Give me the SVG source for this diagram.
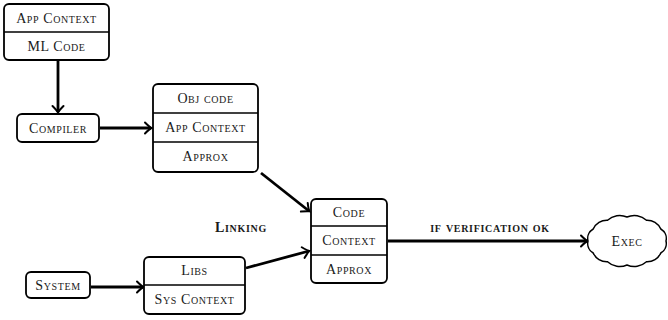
<svg xmlns="http://www.w3.org/2000/svg" width="668" height="320" viewBox="0 0 668 320">
<style>
.box{fill:#fff;stroke:#000;stroke-width:1.8}
.div{stroke:#000;stroke-width:1.5}
.t{font-family:"Liberation Serif","DejaVu Serif",serif;font-size:14px;letter-spacing:0.6px;font-variant:small-caps;text-anchor:middle;fill:#1a1a1a}
.lbl{font-family:"Liberation Serif","DejaVu Serif",serif;font-size:14px;letter-spacing:0.7px;font-weight:bold;font-variant:small-caps;text-anchor:middle;fill:#1a1a1a}
.c{fill:none;stroke:#000;stroke-width:2.8;marker-end:url(#arr)}
</style>
<defs>
<marker id="arr" markerUnits="userSpaceOnUse" markerWidth="14" markerHeight="14" viewBox="-8 -7 10 14" refX="0" refY="0" orient="auto" overflow="visible">
<path d="M -6 -5.5 Q -1.5 -1 0.5 0 Q -1.5 1 -6 5.5" fill="none" stroke="#000" stroke-width="2" stroke-linecap="round"/>
</marker>
</defs>
<g id="connectors">
<line class="c" x1="58" y1="61" x2="58" y2="112"/>
<line class="c" x1="100" y1="128" x2="151" y2="128"/>
<line class="c" x1="261" y1="173" x2="309" y2="211"/>
<line class="c" x1="91" y1="287" x2="143" y2="287"/>
<line class="c" x1="246" y1="268" x2="309" y2="251"/>
<line class="c" x1="388" y1="241" x2="587" y2="241"/>
<text class="lbl" x="241" y="232">Linking</text>
<text class="lbl" x="490" y="232">if verification ok</text>
</g>
<g id="appctx">
<rect class="box" x="4" y="4" width="105" height="56" rx="5"/>
<line class="div" x1="4" y1="32" x2="109" y2="32"/>
<text class="t" x="56.5" y="23">App Context</text>
<text class="t" x="56.5" y="51">ML Code</text>
</g>
<g id="compiler">
<rect class="box" x="17" y="114" width="82" height="28" rx="5"/>
<text class="t" x="58" y="133">Compiler</text>
</g>
<g id="obj">
<rect class="box" x="153" y="84" width="105" height="88" rx="5"/>
<line class="div" x1="153" y1="113" x2="258" y2="113"/>
<line class="div" x1="153" y1="142" x2="258" y2="142"/>
<text class="t" x="205.5" y="103">Obj code</text>
<text class="t" x="205.5" y="132">App Context</text>
<text class="t" x="205.5" y="161">Approx</text>
</g>
<g id="code">
<rect class="box" x="311" y="199" width="76" height="84" rx="5"/>
<line class="div" x1="311" y1="226" x2="387" y2="226"/>
<line class="div" x1="311" y1="255" x2="387" y2="255"/>
<text class="t" x="349" y="217">Code</text>
<text class="t" x="349" y="245">Context</text>
<text class="t" x="349" y="274">Approx</text>
</g>
<g id="system">
<rect class="box" x="26" y="272" width="64" height="26" rx="5"/>
<text class="t" x="58" y="290">System</text>
</g>
<g id="libs">
<rect class="box" x="144" y="257" width="101" height="57" rx="5"/>
<line class="div" x1="144" y1="285" x2="245" y2="285"/>
<text class="t" x="194.5" y="275">Libs</text>
<text class="t" x="194.5" y="304">Sys Context</text>
</g>
<g id="exec">
<path d="M 666 241 A 11 11 0 0 1 660.8 253 A 15 15 0 0 1 646.5 261.8 A 18 18 0 0 1 627 265 A 18 18 0 0 1 607.5 261.8 A 15 15 0 0 1 593.2 253 A 11 11 0 0 1 588 241 A 11 11 0 0 1 593.2 229 A 15 15 0 0 1 607.5 220.2 A 18 18 0 0 1 627 217 A 18 18 0 0 1 646.5 220.2 A 15 15 0 0 1 660.8 229 A 11 11 0 0 1 666 241 Z" fill="#fff" stroke="#000" stroke-width="1.5"/>
<text class="t" x="627" y="246">Exec</text>
</g>
</svg>
